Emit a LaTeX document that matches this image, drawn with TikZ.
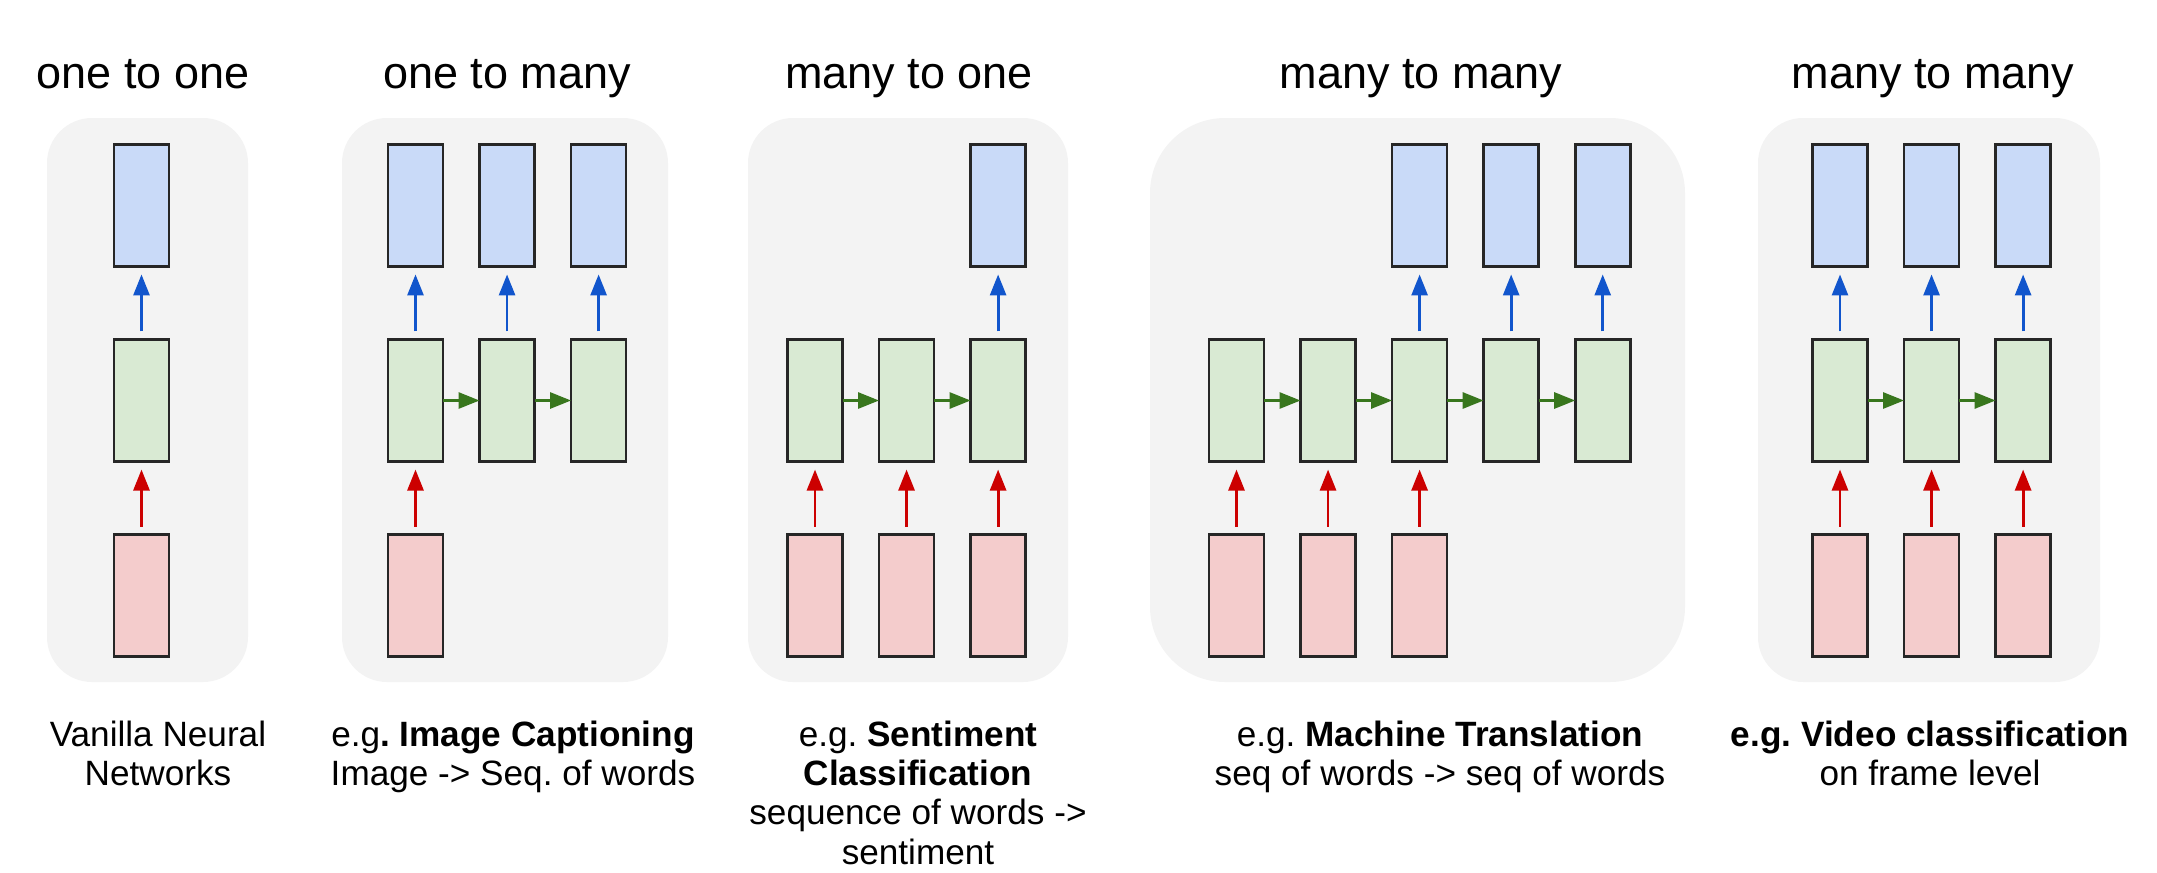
\documentclass[tikz,border=0pt]{standalone}
\usepackage{fontspec}
\setmainfont{Liberation Sans}
\usepackage{tikz}
\usetikzlibrary{arrows.meta,positioning}
\usepackage{xcolor}
\definecolor{outfill}{HTML}{C9DAF8}
\definecolor{hidfill}{HTML}{D9EAD3}
\definecolor{infill}{HTML}{F4CCCC}
\definecolor{panelgray}{HTML}{F3F3F3}
\definecolor{outarrow}{HTML}{1155CC}
\definecolor{hidarrow}{HTML}{38761D}
\definecolor{inarrow}{HTML}{CC0000}
\definecolor{edgegray}{HTML}{262626}

\begin{document}
\begin{tikzpicture}[x=0.01cm, y=-0.01cm, node distance=0.73cm and 0.365cm,
  cell/.style = {draw=edgegray, line width=0.75pt, minimum width=0.55cm, minimum height=1.22cm, inner sep=0pt, outer sep=0pt},
  outcell/.style = {cell, fill=outfill},
  hidcell/.style = {cell, fill=hidfill},
  incell/.style = {cell, fill=infill},
  bluearr/.style = {draw=outarrow, line width=0.8pt, -{Triangle[length=0.21cm,width=0.16cm]}, shorten <=0.08cm, shorten >=0.08cm},
  redarr/.style = {draw=inarrow, line width=0.8pt, -{Triangle[length=0.21cm,width=0.16cm]}, shorten <=0.08cm, shorten >=0.08cm},
  greenarr/.style = {draw=hidarrow, line width=0.8pt, -{Triangle[length=0.21cm,width=0.16cm]}},
  panel/.style = {fill=panelgray, rounded corners=0.45cm},
  heading/.style = {anchor=base, font=\fontsize{12.8}{15}\selectfont},
  note/.style = {anchor=north, inner sep=0pt, align=center, font=\fontsize{10}{11.2}\selectfont\frenchspacing}]
\useasboundingbox (0,0) rectangle (2157,872);

% one to one
\fill[panel] (47,118) rectangle (248,682);
\node[heading] (t1) at (143,88) {one to one};
\node[hidcell] (a1) at (141.5,400.5) {};
\node[outcell] (a1o) [above=of a1] {};
\node[incell] (a1i) [below=of a1] {};
\draw[bluearr] (a1) -- (a1o);
\draw[redarr] (a1i) -- (a1);
\node[note] (n1) at (158,720) {Vanilla Neural\\Networks};

% one to many
\fill[panel] (342,118) rectangle (668,682);
\node[heading] (t2) at (507,88) {one to many};
\node[hidcell] (b1) at (415.5,400.5) {};
\node[hidcell] (b2) [right=of b1] {};
\node[hidcell] (b3) [right=of b2] {};
\node[outcell] (b1o) [above=of b1] {};
\node[outcell] (b2o) [above=of b2] {};
\node[outcell] (b3o) [above=of b3] {};
\node[incell] (b1i) [below=of b1] {};
\draw[greenarr] (b1) -- (b2);
\draw[greenarr] (b2) -- (b3);
\draw[bluearr] (b1) -- (b1o);
\draw[bluearr] (b2) -- (b2o);
\draw[bluearr] (b3) -- (b3o);
\draw[redarr] (b1i) -- (b1);
\node[note] (n2) at (513,720) {e.g\textbf{. Image Captioning}\\Image -> Seq. of words};

% many to one
\fill[panel] (748,118) rectangle (1068,682);
\node[heading] (t3) at (909,88) {many to one};
\node[hidcell] (c1) at (815,400.5) {};
\node[hidcell] (c2) [right=of c1] {};
\node[hidcell] (c3) [right=of c2] {};
\node[outcell] (c3o) [above=of c3] {};
\node[incell] (c1i) [below=of c1] {};
\node[incell] (c2i) [below=of c2] {};
\node[incell] (c3i) [below=of c3] {};
\draw[greenarr] (c1) -- (c2);
\draw[greenarr] (c2) -- (c3);
\draw[bluearr] (c3) -- (c3o);
\draw[redarr] (c1i) -- (c1);
\draw[redarr] (c2i) -- (c2);
\draw[redarr] (c3i) -- (c3);
\node[note] (n3) at (918,720) {e.g. \textbf{Sentiment}\\\textbf{Classification}\\sequence of words ->\\sentiment};

% many to many (translation)
\fill[panel, rounded corners=0.75cm] (1150,118) rectangle (1685,682);
\node[heading] (t4) at (1421,88) {many to many};
\node[hidcell] (d1) at (1236.5,400.5) {};
\node[hidcell] (d2) [right=of d1] {};
\node[hidcell] (d3) [right=of d2] {};
\node[hidcell] (d4) [right=of d3] {};
\node[hidcell] (d5) [right=of d4] {};
\node[outcell] (d3o) [above=of d3] {};
\node[outcell] (d4o) [above=of d4] {};
\node[outcell] (d5o) [above=of d5] {};
\node[incell] (d1i) [below=of d1] {};
\node[incell] (d2i) [below=of d2] {};
\node[incell] (d3i) [below=of d3] {};
\draw[greenarr] (d1) -- (d2);
\draw[greenarr] (d2) -- (d3);
\draw[greenarr] (d3) -- (d4);
\draw[greenarr] (d4) -- (d5);
\draw[bluearr] (d3) -- (d3o);
\draw[bluearr] (d4) -- (d4o);
\draw[bluearr] (d5) -- (d5o);
\draw[redarr] (d1i) -- (d1);
\draw[redarr] (d2i) -- (d2);
\draw[redarr] (d3i) -- (d3);
\node[note] (n4) at (1440,720) {e.g. \textbf{Machine Translation}\\seq of words -> seq of words};

% many to many (frames)
\fill[panel] (1758,118) rectangle (2100,682);
\node[heading] (t5) at (1933,88) {many to many};
\node[hidcell] (e1) at (1840,400.5) {};
\node[hidcell] (e2) [right=of e1] {};
\node[hidcell] (e3) [right=of e2] {};
\node[outcell] (e1o) [above=of e1] {};
\node[outcell] (e2o) [above=of e2] {};
\node[outcell] (e3o) [above=of e3] {};
\node[incell] (e1i) [below=of e1] {};
\node[incell] (e2i) [below=of e2] {};
\node[incell] (e3i) [below=of e3] {};
\draw[greenarr] (e1) -- (e2);
\draw[greenarr] (e2) -- (e3);
\draw[bluearr] (e1) -- (e1o);
\draw[bluearr] (e2) -- (e2o);
\draw[bluearr] (e3) -- (e3o);
\draw[redarr] (e1i) -- (e1);
\draw[redarr] (e2i) -- (e2);
\draw[redarr] (e3i) -- (e3);
\node[note] (n5) at (1930,720) {\textbf{e.g. Video classification}\\on frame level};

\end{tikzpicture}
\end{document}
